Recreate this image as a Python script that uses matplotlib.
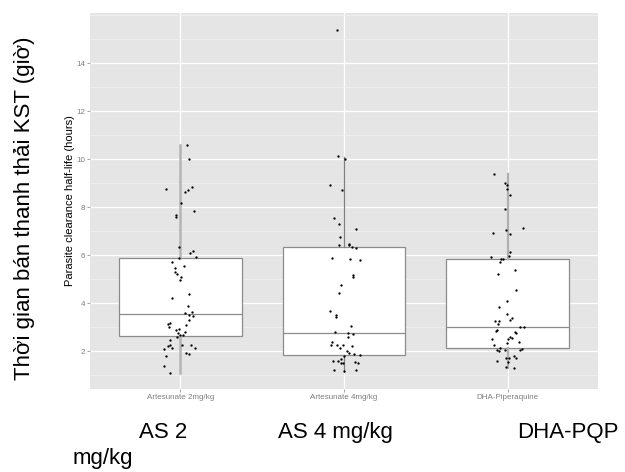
import numpy as np
import matplotlib
matplotlib.use("Agg")
import matplotlib.pyplot as plt
from matplotlib.ticker import MultipleLocator

# Nhóm điều trị (nhãn trục x của biểu đồ gốc)
groups = ["Artesunate 2mg/kg", "Artesunate 4mg/kg", "DHA-Piperaquine"]

# Thống kê hộp
box_q1 = [2.62, 1.83, 2.11]
box_med = [3.53, 2.74, 2.99]
box_q3 = [5.89, 6.32, 5.82]
whisk_lo = [1.10, 1.14, 1.28]
whisk_hi = [10.58, 10.10, 9.38]

# Điểm dữ liệu (half-life, giờ)
as2_vals = [10.57, 10.00, 8.74, 8.83, 8.69, 8.63, 8.17, 7.85, 7.68, 7.57,
            6.35, 6.18, 6.10, 5.92, 5.89, 5.71, 5.55, 5.44, 5.28, 5.21,
            5.08, 4.95, 4.36, 4.22, 3.89, 3.63, 3.57, 3.50, 3.46, 3.30,
            3.18, 3.13, 3.07, 3.01, 2.92, 2.89, 2.79, 2.74, 2.67, 2.67,
            2.60, 2.46, 2.25, 2.25, 2.25, 2.20, 2.13, 2.14, 2.10, 1.90,
            1.87, 1.80, 1.37, 1.10]
as2_jit = [0.043, 0.053, -0.087, 0.071, 0.045, 0.030, 0.006, 0.085, -0.024, -0.024,
           -0.006, 0.079, 0.061, 0.096, -0.006, -0.049, 0.023, -0.029, -0.032, -0.020,
           0.008, 0.000, 0.055, -0.051, 0.045, 0.071, 0.032, 0.055, 0.079, 0.057,
           -0.059, -0.077, 0.037, -0.067, -0.004, -0.024, 0.029, -0.012, 0.016, 0.000,
           -0.020, -0.061, 0.012, -0.059, 0.065, -0.077, -0.049, 0.090, -0.098, 0.037,
           0.057, -0.087, -0.096, -0.063]

as4_vals = [15.39, 10.14, 10.01, 8.90, 8.72, 7.55, 7.29, 7.08, 6.75, 6.40,
            6.47, 6.40, 6.33, 6.29, 5.87, 5.83, 5.78, 5.18, 5.08, 4.75,
            4.43, 3.67, 3.50, 3.42, 3.04, 2.79, 2.75, 2.69, 2.57, 2.39,
            2.24, 2.25, 2.24, 2.22, 2.13, 2.00, 1.92, 1.88, 1.82, 1.78,
            1.58, 1.60, 1.67, 1.51, 1.49, 1.54, 1.50, 1.21, 1.18, 1.22]
as4_jit = [-0.040, -0.034, 0.007, -0.084, -0.013, -0.060, -0.032, 0.074, -0.023, -0.032,
           0.029, 0.032, 0.046, 0.074, -0.072, 0.034, 0.099, 0.056, 0.056, -0.017,
           -0.032, -0.088, -0.046, -0.048, 0.044, -0.052, 0.026, 0.054, 0.023, -0.076,
           -0.078, -0.044, -0.009, 0.050, -0.027, 0.021, 0.032, 0.062, 0.095, -0.003,
           -0.070, -0.038, -0.020, -0.007, -0.021, 0.070, 0.084, -0.058, -0.003, 0.076]

dha_vals = [9.38, 9.00, 8.90, 8.76, 8.50, 7.90, 7.13, 7.04, 6.92, 6.89,
            6.11, 5.95, 5.93, 5.85, 5.82, 5.70, 5.36, 5.22, 4.54, 4.08,
            3.83, 3.54, 3.38, 3.28, 3.26, 3.24, 3.11, 3.00, 3.00, 2.86,
            2.82, 2.79, 2.74, 2.60, 2.54, 2.50, 2.51, 2.39, 2.32, 2.24,
            2.13, 2.10, 2.04, 2.04, 2.00, 2.04, 1.80, 1.69, 1.69, 1.69,
            1.60, 1.53, 1.35, 1.28]
dha_jit = [-0.084, -0.016, -0.004, -0.006, 0.016, -0.020, 0.093, -0.012, -0.090, 0.014,
           0.010, 0.006, -0.102, -0.041, -0.032, -0.047, 0.041, -0.063, 0.047, -0.004,
           -0.057, -0.004, 0.023, 0.014, -0.081, -0.057, -0.063, 0.075, 0.096, -0.069,
           -0.073, 0.041, 0.051, 0.012, 0.023, 0.000, -0.096, 0.069, -0.008, -0.087,
           -0.051, 0.084, 0.071, -0.067, -0.053, -0.020, 0.035, -0.012, 0.008, 0.049,
           -0.069, 0.000, -0.012, 0.038]

y_ticks = [2, 4, 6, 8, 10, 12, 14]
y_label_vi = "Thời gian bán thanh thải KST (giờ)"
y_label_en = "Parasite clearance half-life (hours)"
bottom_labels = ["AS 2", "AS 4 mg/kg", "DHA-PQP"]

plt.rcParams['font.family'] = ['Liberation Sans', 'DejaVu Sans']

fig = plt.figure(figsize=(6.25, 4.72), dpi=100)
ax = fig.add_axes([0.144, 0.1758, 0.8128, 0.7966])
ax.set_facecolor('#E5E5E5')
for s in ax.spines.values():
    s.set_visible(False)

pos = np.arange(1, len(groups) + 1)
stats = []
for i in range(len(groups)):
    stats.append(dict(med=box_med[i], q1=box_q1[i], q3=box_q3[i],
                      whislo=whisk_lo[i], whishi=whisk_hi[i], fliers=[]))

bp = ax.bxp(stats, positions=pos, widths=0.75, patch_artist=True,
            showcaps=False, showfliers=False,
            boxprops=dict(facecolor='white', edgecolor='#8c8c8c', linewidth=0.9),
            medianprops=dict(color='#8c8c8c', linewidth=0.9),
            whiskerprops=dict(color='#9a9a9a', linewidth=1.2))
# râu hộp 1 và 3 nhạt hơn, dày hơn như ảnh gốc
whisk_style = [('#b4b4b4', 1.8), ('#808080', 0.9), ('#b0b0b0', 1.6)]
for i, (c, lw) in enumerate(whisk_style):
    for w in bp['whiskers'][2 * i:2 * i + 2]:
        w.set_color(c)
        w.set_linewidth(lw)

for i, (vals, jit) in enumerate([(as2_vals, as2_jit), (as4_vals, as4_jit), (dha_vals, dha_jit)]):
    ax.scatter(pos[i] + np.array(jit), vals, s=2.8, color='black', zorder=5, linewidths=0)

ax.set_xlim(0.45, 3.55)
ax.set_ylim(0.417, 16.083)
ax.set_xticks(pos)
ax.set_xticklabels(groups)
ax.set_yticks(y_ticks)
ax.yaxis.set_minor_locator(MultipleLocator(1))
ax.set_axisbelow(True)
ax.grid(True, which='major', color='white', linewidth=0.9)
ax.grid(True, which='minor', axis='y', color='#F2F2F2', linewidth=0.5)
ax.tick_params(axis='both', which='major', labelsize=5.8, labelcolor='#7f7f7f',
               color='#7f7f7f', length=2.2, width=0.5, pad=1.2)
ax.tick_params(axis='y', which='minor', length=0)
ax.set_ylabel(y_label_en, fontsize=8, labelpad=1)

fig.text(0.040, 0.558, y_label_vi, rotation=90, fontsize=16, ha='center', va='center')
fig.text(163 / 625, 0.072, bottom_labels[0], fontsize=16, ha='center', va='baseline')
fig.text(335 / 625, 0.072, bottom_labels[1], fontsize=16, ha='center', va='baseline')
fig.text(568 / 625, 0.072, bottom_labels[2], fontsize=16, ha='center', va='baseline')
fig.text(73 / 625, 0.016, "mg/kg", fontsize=16, ha='left', va='baseline')

fig.savefig("out.png", dpi=100)
